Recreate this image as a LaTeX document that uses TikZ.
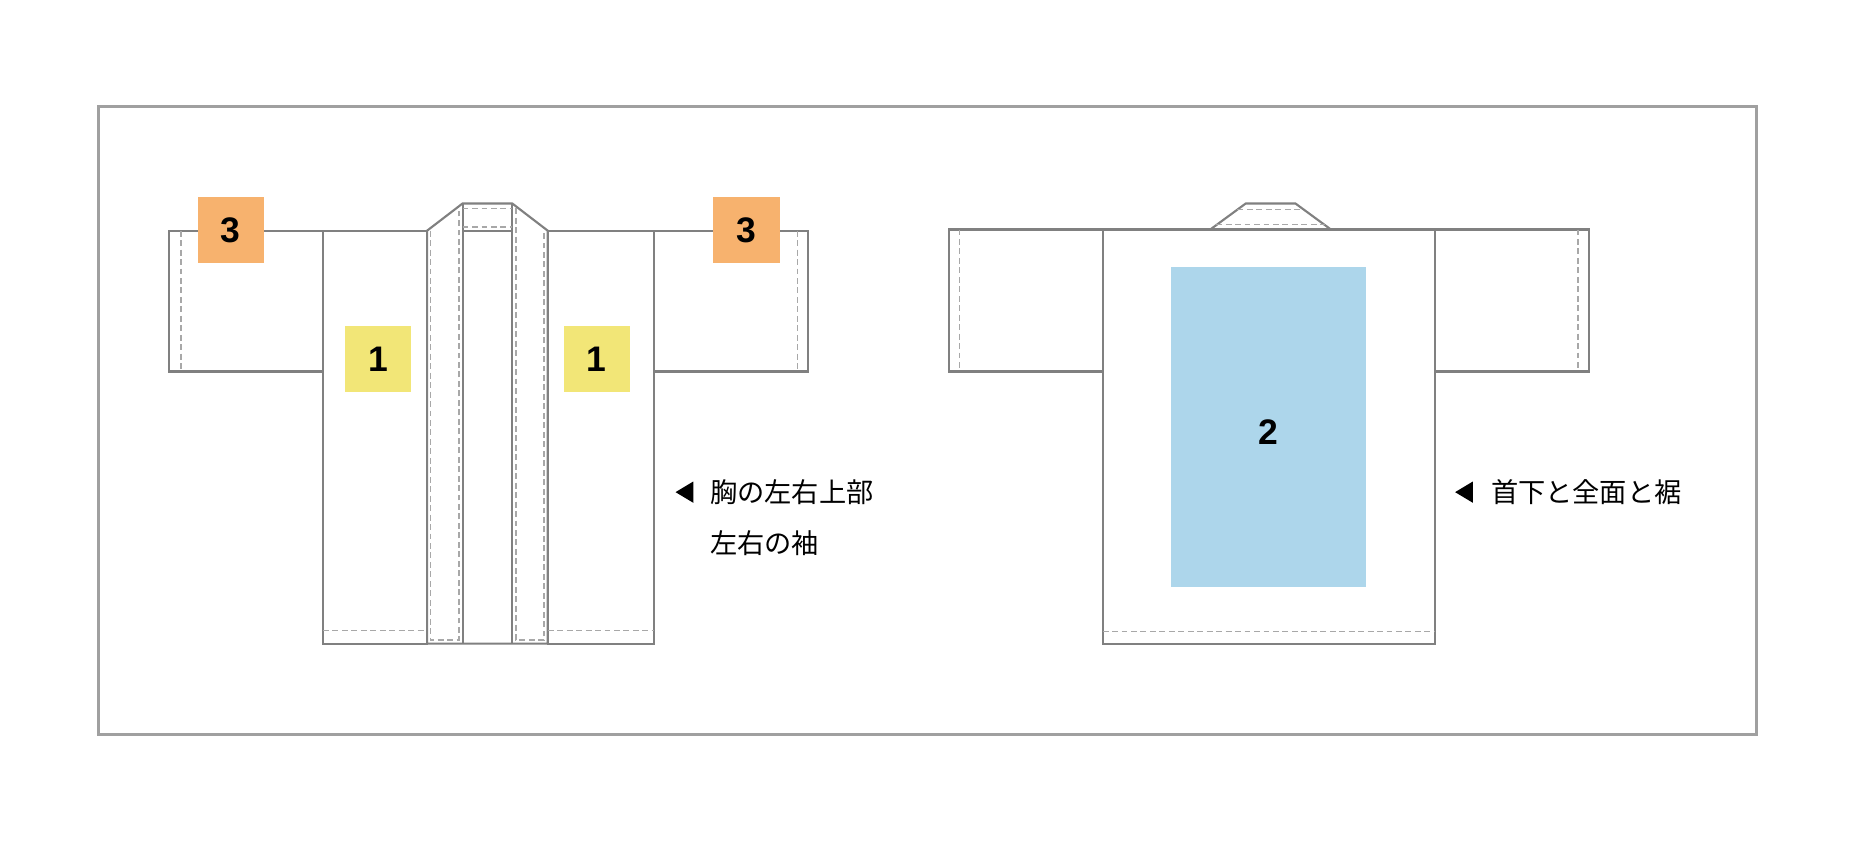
\documentclass[tikz,border=0pt]{standalone}
\usepackage{fontspec}
\newfontfamily\jp{Noto Sans CJK JP}
\newfontfamily\num{Liberation Sans}
\definecolor{ln}{HTML}{808080}
\definecolor{fr}{HTML}{A0A0A0}
\definecolor{dsh}{HTML}{A8A8A8}
\definecolor{org}{HTML}{F7B26E}
\definecolor{yel}{HTML}{F2E677}
\definecolor{blu}{HTML}{ADD6EB}
\begin{document}
\begin{tikzpicture}[x=0.5pt,y=-0.5pt,
  ol/.style={draw=ln,line width=0.9pt},
  sd/.style={draw=dsh,line width=0.6pt,dash pattern=on 2.5pt off 1.5pt},
  lab/.style={font=\num\bfseries\fontsize{15}{15}\selectfont,inner sep=0pt,minimum width=28pt,minimum height=28pt},
  txt/.style={font=\jp\fontsize{11.5}{12}\selectfont,anchor=west,inner sep=0pt}]
\useasboundingbox (0,0) rectangle (1568,712);
\draw[fr,line width=1.2pt] (83,90) rectangle (1485,621);
% left garment
\draw[ol] (143,195) rectangle (273,314);
\draw[ol] (553,195) rectangle (683,314);
\draw[sd] (153,195)--(153,314);
\draw[sd] (674,195)--(674,314);
\draw[ol] (273,195) rectangle (361,544);
\draw[ol] (463,195) rectangle (553,544);
\draw[ol] (361,544)--(361,195)--(391,172)--(433,172)--(463,195)--(463,544)--cycle;
\draw[ol] (391,172)--(391,544);
\draw[ol] (433,172)--(433,544);
\draw[ol] (391,195)--(433,195);
\draw[sd] (391,176)--(433,176);
\draw[sd] (391,192)--(433,192);
\draw[sd] (364,195)--(364,541)--(388,541)--(388,176);
\draw[sd] (436,176)--(436,541)--(460,541)--(460,195);
\draw[sd] (273,533)--(361,533);
\draw[sd] (463,533)--(553,533);
\node[lab,fill=org] (o1) at (195,194.5) {3};
\node[lab,fill=org] (o2) at (631,194.5) {3};
\node[lab,fill=yel] (y1) at (319.5,303.5) {1};
\node[lab,fill=yel] (y2) at (504.5,303.5) {1};
\fill (571,416)--(586,407)--(586,425)--cycle;
\node[txt] (t1) at (600,416) {胸の左右上部};
\node[txt] (t2) at (600,459) {左右の袖};
% right garment
\draw[ol] (802,194) rectangle (932,314);
\draw[ol] (1213,194) rectangle (1343,314);
\draw[sd] (811,194)--(811,314);
\draw[sd] (1334,194)--(1334,314);
\draw[ol] (932,194) rectangle (1213,544);
\draw[ol] (1023,194)--(1053,172)--(1095,172)--(1125,194);
\draw[sd] (1046,177)--(1102,177);
\draw[sd] (1028,190)--(1120,190);
\draw[sd] (932,534)--(1213,534);
\fill[blu] (990,226) rectangle (1155,496);
\node[lab] (b2) at (1072,365) {2};
\fill (1230,416)--(1245,407)--(1245,425)--cycle;
\node[txt] (t3) at (1260,416) {首下と全面と裾};
\end{tikzpicture}
\end{document}
